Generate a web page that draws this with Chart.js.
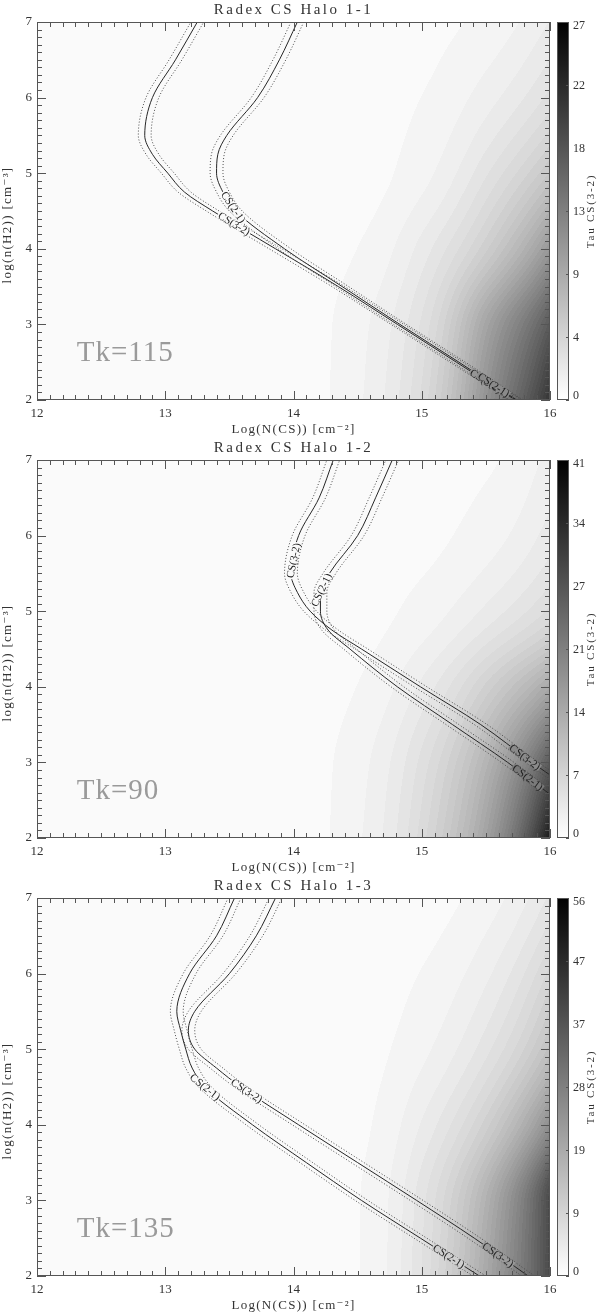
<!DOCTYPE html>
<html>
<head>
<meta charset="utf-8">
<script src="https://cdn.jsdelivr.net/npm/chart.js@4.4.1/dist/chart.umd.min.js"></script>
<style>
  html, body { margin: 0; padding: 0; background: #fff; }
  canvas { display: block; }
</style>
</head>
<body>
<canvas id="c1" width="600" height="438"></canvas>
<canvas id="c2" width="600" height="438"></canvas>
<canvas id="c3" width="600" height="438"></canvas>
<script>
// log(n(H2)) values at which every curve below is sampled
const nGrid = [2, 2.5, 3, 3.5, 4, 4.5, 4.75, 5, 5.25, 5.5, 6, 6.5, 7];

// Halo 1-1 : log N(CS) of each contour at nGrid
const p1_cs32    = [15.73, 15.27, 14.81, 14.35, 13.86, 13.37, 13.15, 13.02, 12.90, 12.84, 12.90, 13.08, 13.25];
const p1_cs32_lo = [15.68, 15.22, 14.76, 14.30, 13.81, 13.32, 13.10, 12.97, 12.85, 12.79, 12.85, 13.03, 13.20];
const p1_cs32_hi = [15.78, 15.32, 14.86, 14.40, 13.91, 13.42, 13.20, 13.07, 12.95, 12.89, 12.95, 13.13, 13.30];
const p1_cs21    = [15.74, 15.29, 14.83, 14.38, 13.93, 13.55, 13.45, 13.40, 13.41, 13.48, 13.72, 13.89, 14.03];
const p1_cs21_lo = [15.69, 15.24, 14.78, 14.33, 13.88, 13.50, 13.40, 13.35, 13.36, 13.43, 13.67, 13.84, 13.98];
const p1_cs21_hi = [15.79, 15.34, 14.88, 14.43, 13.98, 13.60, 13.50, 13.45, 13.46, 13.53, 13.77, 13.94, 14.08];

// Halo 1-2
const p2_cs32    = [16.65, 16.28, 15.86, 15.46, 14.99, 14.53, 14.30, 14.13, 14.03, 13.98, 14.04, 14.20, 14.31];
const p2_cs32_lo = [16.60, 16.23, 15.81, 15.41, 14.94, 14.48, 14.25, 14.08, 13.98, 13.93, 13.99, 14.15, 14.26];
const p2_cs32_hi = [16.70, 16.33, 15.91, 15.51, 15.04, 14.58, 14.35, 14.18, 14.08, 14.03, 14.09, 14.25, 14.36];
const p2_cs21    = [16.45, 16.06, 15.67, 15.24, 14.81, 14.44, 14.27, 14.21, 14.21, 14.28, 14.50, 14.64, 14.77];
const p2_cs21_lo = [16.40, 16.01, 15.62, 15.19, 14.76, 14.39, 14.22, 14.16, 14.16, 14.23, 14.45, 14.59, 14.72];
const p2_cs21_hi = [16.50, 16.11, 15.72, 15.29, 14.86, 14.49, 14.32, 14.26, 14.26, 14.33, 14.55, 14.69, 14.82];

// Halo 1-3
const p3_cs32    = [15.83, 15.41, 14.96, 14.50, 14.04, 13.59, 13.40, 13.23, 13.18, 13.23, 13.50, 13.71, 13.86];
const p3_cs32_lo = [15.78, 15.36, 14.91, 14.45, 13.99, 13.54, 13.35, 13.18, 13.13, 13.18, 13.45, 13.66, 13.81];
const p3_cs32_hi = [15.88, 15.46, 15.01, 14.55, 14.09, 13.64, 13.45, 13.28, 13.23, 13.28, 13.55, 13.76, 13.91];
const p3_cs21    = [15.45, 14.99, 14.53, 14.10, 13.68, 13.31, 13.21, 13.16, 13.12, 13.09, 13.19, 13.40, 13.54];
const p3_cs21_lo = [15.40, 14.94, 14.48, 14.05, 13.63, 13.26, 13.16, 13.11, 13.07, 13.04, 13.14, 13.35, 13.49];
const p3_cs21_hi = [15.50, 15.04, 14.58, 14.15, 13.73, 13.36, 13.26, 13.21, 13.17, 13.14, 13.24, 13.45, 13.59];

// tau CS(3-2) background, sampled at tauN (columns) x tauRows (rows)
const tauN = [12, 14, 14.5, 15, 15.5, 16];
const tauRows = [2, 3, 4, 5, 6, 7];
const tau1 = [
  [0.55, 0.6, 1.3, 3.8, 11.5, 21.5],
  [0.55, 0.6, 1.2, 3.2, 9.5, 17.5],
  [0.55, 0.55, 0.85, 2.2, 5.2, 11.0],
  [0.55, 0.55, 0.62, 1.2, 3.0, 6.0],
  [0.55, 0.55, 0.58, 0.85, 1.7, 3.3],
  [0.55, 0.55, 0.55, 0.65, 1.0, 2.0]
];
const tau2 = [
  [0.8, 0.9, 2.0, 6.0, 15.0, 37.0],
  [0.8, 0.9, 1.8, 5.0, 12.0, 26.5],
  [0.8, 0.8, 1.3, 3.2, 7.5, 14.0],
  [0.8, 0.8, 0.95, 1.6, 3.2, 5.8],
  [0.8, 0.8, 0.85, 1.05, 1.7, 3.4],
  [0.8, 0.8, 0.8, 0.9, 1.15, 2.4]
];
const tau3 = [
  [1.1, 1.1, 1.7, 6.5, 19.0, 40.0],
  [1.1, 1.1, 1.7, 6.0, 17.0, 40.0],
  [1.1, 1.1, 1.5, 4.2, 10.5, 25.0],
  [1.1, 1.1, 1.3, 2.6, 6.0, 14.0],
  [1.1, 1.1, 1.15, 1.8, 3.8, 9.2],
  [1.1, 1.1, 1.1, 1.25, 2.3, 5.5]
];
const tauMax = [27, 41, 56];
const cbTicks1 = [0, 4, 9, 13, 18, 22, 27];
const cbTicks2 = [0, 7, 14, 21, 27, 34, 41];
const cbTicks3 = [0, 9, 19, 28, 37, 47, 56];

const xTicks = [12, 13, 14, 15, 16];
const yTicks = [2, 3, 4, 5, 6, 7];
const titles = ['Radex CS Halo 1-1', 'Radex CS Halo 1-2', 'Radex CS Halo 1-3'];
const tkLabels = ['Tk=115', 'Tk=90', 'Tk=135'];

// contour labels: which curve, and at which log n(H2) they sit
const labels1 = [
  { text: 'CS(2-1)', key: 'cs21', n: 4.55 },
  { text: 'CS(3-2)', key: 'cs32', n: 4.33 },
  { text: 'CS(3-2)', key: 'cs32', n: 2.25 },
  { text: 'CS(2-1)', key: 'cs21', n: 2.2 }
];
const labels2 = [
  { text: 'CS(3-2)', key: 'cs32', n: 5.67 },
  { text: 'CS(2-1)', key: 'cs21', n: 5.28 },
  { text: 'CS(3-2)', key: 'cs32', n: 3.07 },
  { text: 'CS(2-1)', key: 'cs21', n: 2.8 }
];
const labels3 = [
  { text: 'CS(2-1)', key: 'cs21', n: 4.5 },
  { text: 'CS(3-2)', key: 'cs32', n: 4.45 },
  { text: 'CS(2-1)', key: 'cs21', n: 2.26 },
  { text: 'CS(3-2)', key: 'cs32', n: 2.28 }
];

const SERIF = '"Liberation Serif", "DejaVu Serif", serif';
const LEVELS = 48;

// monotone cubic (Fritsch-Carlson) through (xs, ys), clamped at the ends
function monoInterp(xs, ys, v) {
  const m = xs.length - 1;
  if (v <= xs[0]) return ys[0];
  if (v >= xs[m]) return ys[m];
  let i = 0;
  while (xs[i + 1] < v) i++;
  const d = [];
  for (let k = 0; k < m; k++) d.push((ys[k + 1] - ys[k]) / (xs[k + 1] - xs[k]));
  const tan = k => {
    if (k === 0) return d[0];
    if (k === m) return d[m - 1];
    if (d[k - 1] * d[k] <= 0) return 0;
    return 2 / (1 / d[k - 1] + 1 / d[k]);
  };
  const h = xs[i + 1] - xs[i], t = (v - xs[i]) / h;
  const t2 = t * t, t3 = t2 * t;
  return (2 * t3 - 3 * t2 + 1) * ys[i] + (t3 - 2 * t2 + t) * h * tan(i) +
         (-2 * t3 + 3 * t2) * ys[i + 1] + (t3 - t2) * h * tan(i + 1);
}

function tauAt(grid, N, n) {
  const rows = grid.map(r => monoInterp(tauN, r.map(Math.log), N));
  return Math.exp(monoInterp(tauRows, rows, n));
}

function grayOf(tau, max) {
  const q = Math.round(Math.min(tau / max, 1) * LEVELS) / LEVELS;
  return Math.round(255 * (1 - q));
}

function pts(xs) {
  return xs.map((v, i) => ({ x: v, y: nGrid[i] }));
}

function drawHeat(chart, spec) {
  const { ctx, chartArea: a, scales: { x, y } } = chart;
  const w = Math.round(a.right - a.left), h = Math.round(a.bottom - a.top);
  const off = document.createElement('canvas');
  off.width = w; off.height = h;
  const octx = off.getContext('2d');
  const img = octx.createImageData(w, h);
  const logGrid = spec.tau.map(r => r.map(Math.log));
  for (let i = 0; i < w; i++) {
    const N = x.getValueForPixel(a.left + i + 0.5);
    const rows = logGrid.map(r => monoInterp(tauN, r, N));
    for (let j = 0; j < h; j++) {
      const n = y.getValueForPixel(a.top + j + 0.5);
      const g = grayOf(Math.exp(monoInterp(tauRows, rows, n)), spec.max);
      const k = (j * w + i) * 4;
      img.data[k] = g; img.data[k + 1] = g; img.data[k + 2] = g; img.data[k + 3] = 255;
    }
  }
  octx.putImageData(img, 0, 0);
  ctx.drawImage(off, a.left, a.top);
}

function drawContourLabels(chart, spec) {
  const { ctx, scales: { x, y } } = chart;
  ctx.save();
  ctx.font = '11px ' + SERIF;
  ctx.textAlign = 'center';
  ctx.textBaseline = 'middle';
  spec.labels.forEach(lb => {
    const di = chart.data.datasets.findIndex(d => d.key === lb.key);
    const p = chart.getDatasetMeta(di).data;
    const py = y.getPixelForValue(lb.n);
    let px = null, ang = 0;
    for (let i = 0; i < p.length - 1; i++) {
      const a = p[i], b = p[i + 1];
      if ((a.y - py) * (b.y - py) <= 0 && a.y !== b.y) {
        const t = (py - a.y) / (b.y - a.y);
        px = a.x + t * (b.x - a.x);
        ang = Math.atan2(b.y - a.y, b.x - a.x);
        break;
      }
    }
    if (px === null) return;
    while (ang > Math.PI / 2 - 0.35) ang -= Math.PI;
    while (ang <= -Math.PI / 2 - 0.35) ang += Math.PI;
    const g = grayOf(tauAt(spec.tau, x.getValueForPixel(px), lb.n), spec.max);
    const tw = ctx.measureText(lb.text).width;
    ctx.save();
    ctx.translate(px, py);
    ctx.rotate(ang);
    ctx.fillStyle = `rgb(${g},${g},${g})`;
    ctx.fillRect(-tw / 2 - 1, -3.5, tw + 2, 7);
    ctx.fillStyle = '#1e1e1e';
    ctx.fillText(lb.text, 0, 0.5);
    ctx.restore();
  });
  ctx.restore();
}

function drawFrame(chart, spec) {
  const { ctx, chartArea: a, scales: { x, y } } = chart;
  ctx.save();
  ctx.strokeStyle = '#555';
  ctx.lineWidth = 1;
  ctx.strokeRect(a.left + 0.5, a.top + 0.5, a.right - a.left - 1, a.bottom - a.top - 1);
  ctx.beginPath();
  for (let k = 0; k <= 40; k++) {
    const px = Math.round(x.getPixelForValue(12 + k * 0.1)) + 0.5;
    const len = k % 10 === 0 ? 9 : 5;
    ctx.moveTo(px, a.bottom); ctx.lineTo(px, a.bottom - len);
    ctx.moveTo(px, a.top); ctx.lineTo(px, a.top + len);
  }
  for (let k = 0; k <= 50; k++) {
    const py = Math.round(y.getPixelForValue(2 + k * 0.1)) + 0.5;
    const len = k % 10 === 0 ? 9 : 5;
    ctx.moveTo(a.left, py); ctx.lineTo(a.left + len, py);
    ctx.moveTo(a.right, py); ctx.lineTo(a.right - len, py);
  }
  ctx.stroke();

  ctx.fillStyle = '#333';
  ctx.font = '13px ' + SERIF;
  ctx.textBaseline = 'middle';
  ctx.textAlign = 'center';
  xTicks.forEach(v => ctx.fillText(String(v), x.getPixelForValue(v), a.bottom + 14));
  ctx.textAlign = 'right';
  yTicks.forEach(v => ctx.fillText(String(v), 32, y.getPixelForValue(v)));

  ctx.letterSpacing = '1.3px';
  ctx.textAlign = 'center';
  ctx.fillText('Log(N(CS)) [cm\u207B\u00B2]', (a.left + a.right) / 2, a.bottom + 30);
  ctx.save();
  ctx.translate(8, (a.top + a.bottom) / 2 + 14);
  ctx.rotate(-Math.PI / 2);
  ctx.fillText('log(n(H2)) [cm\u207B\u00B3]', 0, 0);
  ctx.restore();

  ctx.font = '15px ' + SERIF;
  ctx.letterSpacing = '2.5px';
  ctx.fillStyle = '#333';
  ctx.fillText(spec.title, (a.left + a.right) / 2, 10);
  ctx.restore();
}

function drawColorbar(chart, spec) {
  const { ctx, chartArea: a } = chart;
  const L = 557, R = 569, T = a.top, B = a.bottom;
  ctx.save();
  const grad = ctx.createLinearGradient(0, B, 0, T);
  grad.addColorStop(0, '#ffffff');
  grad.addColorStop(1, '#000000');
  ctx.fillStyle = grad;
  ctx.fillRect(L, T, R - L, B - T);
  ctx.strokeStyle = '#555';
  ctx.lineWidth = 1;
  ctx.strokeRect(L + 0.5, T + 0.5, R - L - 1, B - T - 1);
  ctx.fillStyle = '#333';
  ctx.font = '12px ' + SERIF;
  ctx.textAlign = 'left';
  ctx.textBaseline = 'middle';
  const m = spec.cbTicks.length - 1;
  ctx.beginPath();
  spec.cbTicks.forEach((v, i) => {
    const py = Math.round(B - (i / m) * (B - T)) + 0.5;
    ctx.moveTo(R, py); ctx.lineTo(R - 3, py);
    ctx.fillText(String(v), 573, Math.min(Math.max(py, T + 4), B - 4));
  });
  ctx.stroke();
  ctx.save();
  ctx.translate(591, (T + B) / 2);
  ctx.rotate(-Math.PI / 2);
  ctx.textAlign = 'center';
  ctx.font = '11px ' + SERIF;
  ctx.letterSpacing = '1.8px';
  ctx.fillText('Tau CS(3-2)', 0, 0);
  ctx.restore();
  ctx.restore();
}

function drawTk(chart, spec) {
  const { ctx, scales: { x, y } } = chart;
  ctx.save();
  ctx.font = '29px ' + SERIF;
  ctx.textAlign = 'left';
  ctx.textBaseline = 'middle';
  ctx.letterSpacing = '1px';
  ctx.fillStyle = '#9a9a9a';
  ctx.fillText(spec.tk, x.getPixelForValue(12.31), y.getPixelForValue(2.61));
  ctx.restore();
}

function panelPlugin(spec) {
  return {
    id: 'panel',
    beforeDatasetsDraw(chart) { drawHeat(chart, spec); },
    afterDatasetsDraw(chart) {
      drawContourLabels(chart, spec);
      drawTk(chart, spec);
      drawFrame(chart, spec);
      drawColorbar(chart, spec);
    }
  };
}

function line(key, xs, dotted) {
  return {
    key: key,
    data: pts(xs),
    showLine: true,
    pointRadius: 0,
    borderWidth: 1,
    borderColor: dotted ? '#4a4a4a' : '#262626',
    borderDash: dotted ? [1, 2] : [],
    cubicInterpolationMode: 'monotone'
  };
}

function makePanel(id, spec) {
  new Chart(document.getElementById(id), {
    type: 'scatter',
    data: {
      datasets: [
        line('cs21lo', spec.cs21lo, true), line('cs21hi', spec.cs21hi, true),
        line('cs32lo', spec.cs32lo, true), line('cs32hi', spec.cs32hi, true),
        line('cs21', spec.cs21, false), line('cs32', spec.cs32, false)
      ]
    },
    options: {
      indexAxis: 'y',
      responsive: false,
      animation: false,
      devicePixelRatio: 1,
      events: [],
      layout: { padding: { left: 37, right: 50, top: 22, bottom: 38 } },
      scales: {
        x: { type: 'linear', min: 12, max: 16, display: false },
        y: { type: 'linear', min: 2, max: 7, display: false }
      },
      plugins: { legend: { display: false }, tooltip: { enabled: false } }
    },
    plugins: [panelPlugin(spec)]
  });
}

makePanel('c1', { title: titles[0], tk: tkLabels[0], tau: tau1, max: tauMax[0], cbTicks: cbTicks1, labels: labels1,
  cs21: p1_cs21, cs21lo: p1_cs21_lo, cs21hi: p1_cs21_hi, cs32: p1_cs32, cs32lo: p1_cs32_lo, cs32hi: p1_cs32_hi });
makePanel('c2', { title: titles[1], tk: tkLabels[1], tau: tau2, max: tauMax[1], cbTicks: cbTicks2, labels: labels2,
  cs21: p2_cs21, cs21lo: p2_cs21_lo, cs21hi: p2_cs21_hi, cs32: p2_cs32, cs32lo: p2_cs32_lo, cs32hi: p2_cs32_hi });
makePanel('c3', { title: titles[2], tk: tkLabels[2], tau: tau3, max: tauMax[2], cbTicks: cbTicks3, labels: labels3,
  cs21: p3_cs21, cs21lo: p3_cs21_lo, cs21hi: p3_cs21_hi, cs32: p3_cs32, cs32lo: p3_cs32_lo, cs32hi: p3_cs32_hi });
</script>
</body>
</html>
